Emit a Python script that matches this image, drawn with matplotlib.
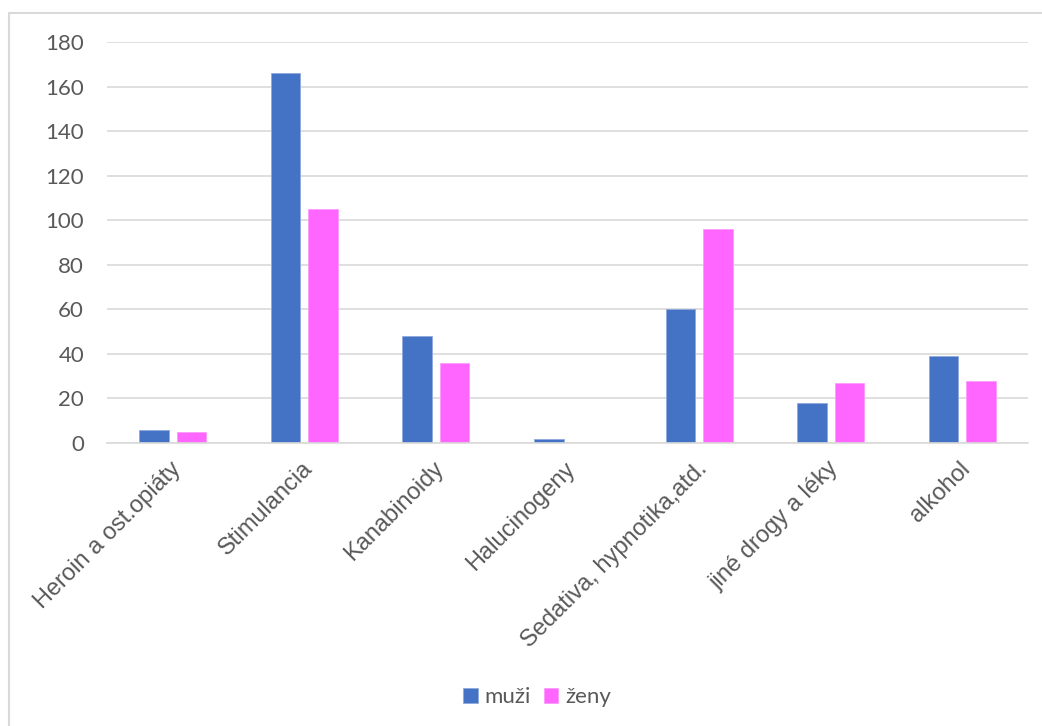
import numpy as np
import matplotlib
matplotlib.use("Agg")
import matplotlib.pyplot as plt
import matplotlib.transforms as mtrans
from matplotlib.patches import Rectangle

categories = ["Heroin a ost.opiáty", "Stimulancia", "Kanabinoidy", "Halucinogeny",
              "Sedativa, hypnotika,atd.", "jiné drogy a léky", "alkohol"]
muzi = [6, 166, 48, 2, 60, 18, 39]
zeny = [5, 105, 36, 0, 96, 27, 28]
yticks = [0, 20, 40, 60, 80, 100, 120, 140, 160, 180]

blue = "#4472C4"
pink = "#FF66FF"
grey = "#595959"

fig = plt.figure(figsize=(10.42, 7.26), dpi=100)
# axes area in pixels: x 107..1028, y 42..443
ax = fig.add_axes([107 / 1042, 1 - 443 / 726, 921 / 1042, 401 / 726])

x = np.arange(len(categories))
w = 0.225
off = 0.142
ax.bar(x - off, muzi, w, color=blue, label="muži", edgecolor="#8FAADC", linewidth=0.6)
ax.bar(x + off, zeny, w, color=pink, label="ženy", edgecolor="#FF99FF", linewidth=0.6)

ax.set_xlim(-0.5, len(categories) - 0.5)
ax.set_ylim(0, 180)
ax.set_yticks(yticks)
ax.yaxis.grid(True, color="#D9D9D9", linewidth=1.2)
ax.set_axisbelow(True)
for s in ["top", "right", "left"]:
    ax.spines[s].set_visible(False)
ax.spines["bottom"].set_color("#D9D9D9")
ax.spines["bottom"].set_linewidth(1.2)

ax.tick_params(axis="both", length=0)
ax.tick_params(axis="y", pad=16.5)
ax.set_yticklabels([str(t) for t in yticks], fontsize=16, color=grey, family="Lato")
ax.set_xticks(x)
ax.set_xticklabels(categories, rotation=45, ha="right", rotation_mode="anchor",
                   fontsize=17, color=grey, family="Liberation Sans")
ax.tick_params(axis="x", pad=10.5)

# small nudge of the rotated labels
shift = mtrans.ScaledTranslation(-3 / 100, 0, fig.dpi_scale_trans)
for lbl in ax.get_xticklabels():
    lbl.set_transform(lbl.get_transform() + shift)

leg = fig.legend(loc="center", bbox_to_anchor=(537 / 1042, 1 - 697 / 726), ncol=2,
                 frameon=False, prop={"family": "Lato", "size": 16},
                 handlelength=0.65, handleheight=0.65, handletextpad=0.3, columnspacing=0.6)
for t in leg.get_texts():
    t.set_color(grey)

# chart frame (only top/left visible in the crop)
fig.patches.append(Rectangle((8.5 / 1042, -0.1), 1.2, 1 - 12.5 / 726 + 0.1,
                             transform=fig.transFigure, fill=False,
                             edgecolor="#D9D9D9", linewidth=1.5))

fig.savefig("out.png", dpi=100)
